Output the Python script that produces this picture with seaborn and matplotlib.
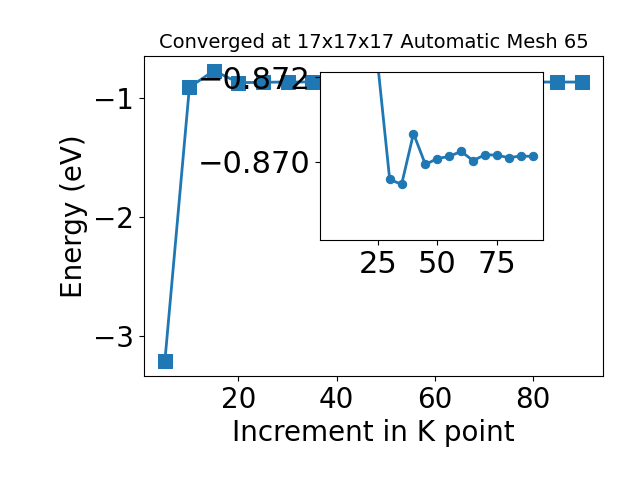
import matplotlib
matplotlib.use("Agg")
import matplotlib.pyplot as plt
import seaborn as sns

# k-point increments and total energies (eV)
kpoints = [5, 10, 15, 20, 25, 30, 35, 40, 45, 50, 55, 60, 65, 70, 75, 80, 85, 90]
energy = [-3.21, -0.914, -0.775, -0.875, -0.8723, -0.86959, -0.86947, -0.87067,
          -0.86994, -0.87008, -0.87013, -0.87025, -0.87003, -0.87017, -0.87016,
          -0.87010, -0.87014, -0.87013]

color = '#1f77b4'

fig = plt.figure(figsize=(6.4, 4.8), dpi=100)
ax = fig.add_axes([0.225, 0.217, 0.717, 0.666])
sns.lineplot(x=kpoints, y=energy, ax=ax, color=color, linewidth=2,
             marker='s', markersize=10, markeredgecolor=color)
ax.set_xlabel('Increment in K point', fontsize=20)
ax.set_ylabel('Energy (eV)', fontsize=20)
ax.set_yticks([-3, -2, -1])
ax.tick_params(labelsize=20)
ax.set_title('Converged at 17x17x17 Automatic Mesh 65', fontsize=14)

# inset zoom on the converged region (inverted y axis), from 25 onwards
axin = fig.add_axes([0.5, 0.5, 0.348, 0.35])
sns.lineplot(x=kpoints[4:], y=energy[4:], ax=axin, color=color, linewidth=2,
             marker='o', markersize=6, markeredgecolor=color)
axin.set_xlim(ax.get_xlim())
axin.set_ylim(-0.86816, -0.87212)
axin.set_yticks([-0.872, -0.870])
axin.set_xticks([25, 50, 75])
axin.tick_params(labelsize=22)

fig.savefig('out.png', dpi=100)
